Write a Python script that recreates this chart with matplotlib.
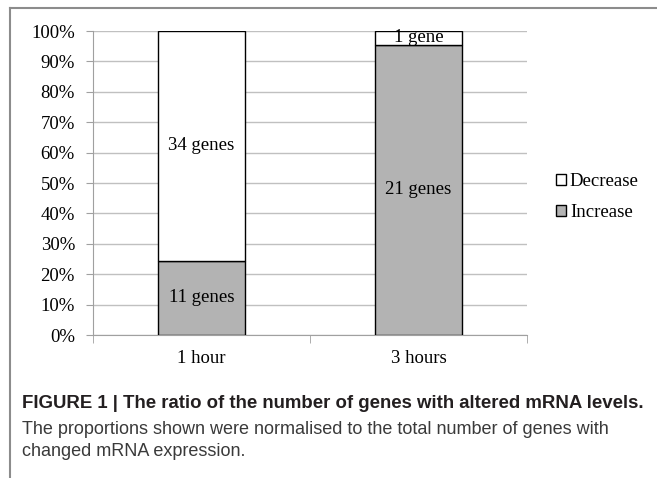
import matplotlib
matplotlib.use("Agg")
import matplotlib.pyplot as plt
import numpy as np

# data
groups = ["1 hour", "3 hours"]
increase_genes = [11, 21]
decrease_genes = [34, 1]
increase_labels = ["11 genes", "21 genes"]
decrease_labels = ["34 genes", "1 gene"]
pct_ticks = [0, 10, 20, 30, 40, 50, 60, 70, 80, 90, 100]

caption_bold = "FIGURE 1 | The ratio of the number of genes with altered mRNA levels."
caption_lines = ["The proportions shown were normalised to the total number of genes with",
                 "changed mRNA expression."]

inc = np.array(increase_genes, dtype=float)
dec = np.array(decrease_genes, dtype=float)
tot = inc + dec
inc_pct = inc / tot * 100
dec_pct = dec / tot * 100

serif = "Liberation Serif"
fs = 13.5
fig = plt.figure(figsize=(6.57, 4.78), dpi=100)
ax = fig.add_axes([93/657, 1 - 335/478, 434/657, 304/478])

x = np.arange(len(groups))
ax.bar(x, inc_pct, width=0.4, color="#b3b3b3", edgecolor="black", linewidth=1, zorder=3, label="Increase")
ax.bar(x, dec_pct, width=0.4, bottom=inc_pct, color="white", edgecolor="black", linewidth=1, zorder=3, label="Decrease")

# labels inside the segments
for i in range(len(groups)):
    ax.text(x[i], inc_pct[i] / 2, increase_labels[i], ha="center", va="center",
            fontsize=fs, family=serif, zorder=4)
    ax.text(x[i], inc_pct[i] + dec_pct[i] / 2, decrease_labels[i], ha="center", va="center",
            fontsize=fs, family=serif, zorder=4)

ax.set_xlim(-0.5, 1.5)
ax.set_ylim(0, 100)
ax.set_yticks(pct_ticks)
ax.set_yticklabels([f"{p}%" for p in pct_ticks], family=serif, fontsize=fs)
ax.set_xticks(x)
ax.set_xticklabels(groups, family=serif, fontsize=fs)
ax.set_xticks([-0.5, 0.5, 1.5], minor=True)
ax.tick_params(axis="x", which="major", length=0, pad=11)
ax.tick_params(axis="x", which="minor", length=6, color="#a0a0a0", direction="out")
ax.tick_params(axis="y", length=5, color="#a0a0a0", pad=8)
ax.grid(axis="y", color="#c0c0c0", linewidth=1, zorder=0)
for s in ["top", "right"]:
    ax.spines[s].set_visible(False)
ax.spines["left"].set_color("#a0a0a0")
ax.spines["bottom"].set_color("#a0a0a0")

# legend, Decrease first
h, l = ax.get_legend_handles_labels()
fig.legend(h[::-1], l[::-1], loc="center left", bbox_to_anchor=(539/657, 1 - 197/478),
           frameon=False, prop={"family": serif, "size": fs},
           handlelength=0.55, handleheight=0.55, handletextpad=0.2, labelspacing=0.75)

# frame lines around the figure panel
fig.add_artist(plt.Line2D([10/657, 10/657], [0, 1 - 8/478], color="#8c8c8c", linewidth=1.5,
                          transform=fig.transFigure))
fig.add_artist(plt.Line2D([10/657, 1], [1 - 8/478, 1 - 8/478], color="#8c8c8c", linewidth=1.5,
                          transform=fig.transFigure))

fig.text(22/657, 1 - 404/478, caption_bold, family="Liberation Sans", weight="bold",
         fontsize=13.4, color="#231f20", va="center")
for line, ypix in zip(caption_lines, [429, 451]):
    fig.text(22/657, 1 - ypix/478, line, family="Liberation Sans", fontsize=13.0,
             color="#3a3a3a", va="center")

fig.savefig("out.png", dpi=100)
